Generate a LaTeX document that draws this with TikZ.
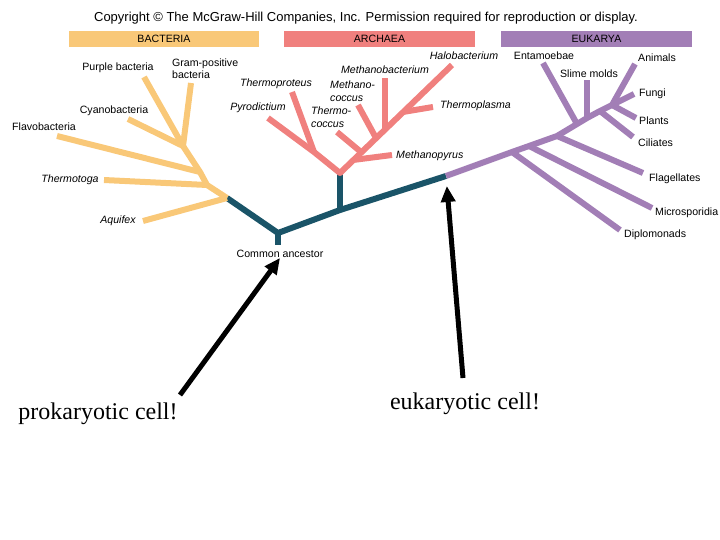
\documentclass[tikz,border=0pt]{standalone}
\usepackage{fontspec}
\setmainfont{Liberation Serif}
\setsansfont{Liberation Sans}
\usepackage{tikz}
\usetikzlibrary{arrows.meta,positioning}
\definecolor{bactorange}{RGB}{249,200,120}
\definecolor{archred}{RGB}{240,128,126}
\definecolor{eukpurple}{RGB}{162,126,182}
\definecolor{stemteal}{RGB}{26,84,104}

\tikzset{
  branch/.style={line width=6pt, line join=round},
  taxon/.style={font=\sffamily\fontsize{10.6}{12.5}\selectfont, inner sep=0pt},
  genus/.style={font=\sffamily\itshape\fontsize{10.6}{12.5}\selectfont, inner sep=0pt},
  domainbar/.style={minimum width=190pt, minimum height=16pt, inner sep=0pt,
    font=\sffamily\fontsize{10.6}{12}\selectfont},
  pointer/.style={-{Triangle[length=16pt,width=14pt]}, line width=5pt},
  cellnote/.style={font=\fontsize{24}{28}\selectfont, inner sep=0pt}
}

\begin{document}
\begin{tikzpicture}[x=1pt,y=-1pt]
  \useasboundingbox (0,0) rectangle (720,540);
  % Header
  \node[font=\sffamily\fontsize{13}{15}\selectfont, inner sep=0pt] (copyright) at (366,18)
        {Copyright \textcopyright{} The McGraw-Hill Companies, Inc. Permission required for reproduction or display.};
  \node[domainbar, fill=bactorange] (bactbar) at (164,39) {BACTERIA};
  \node[domainbar, fill=archred, minimum width=191pt] (archbar) at (379.5,39) {ARCHAEA};
  \node[domainbar, fill=eukpurple, minimum width=191pt] (eukbar) at (596.5,39) {EUKARYA};

  % Stem
  \coordinate (bactroot) at (227,198);
  \coordinate (ancestor) at (278,233);
  \coordinate (ancstub) at (278,245);
  \coordinate (split) at (340,210);
  \coordinate (archroot) at (340,173);
  \coordinate (eukroot) at (446,176);
  \draw[stemteal, branch] (bactroot) -- (ancestor) -- (split) -- (eukroot);
  \draw[stemteal, branch] (ancestor) -- (ancstub);
  \draw[stemteal, branch] (split) -- (archroot);
  \node[taxon] (ancestorlabel) at (280,254) {Common ancestor};

  % Bacteria
  \coordinate (b1) at (183,146);
  \coordinate (b2) at (200,172);
  \coordinate (b3) at (207,185);
  \coordinate (purple) at (144,77);
  \coordinate (gram) at (191,83);
  \coordinate (cyano) at (128,119);
  \coordinate (flavo) at (57,136);
  \coordinate (thermotoga) at (104,180);
  \coordinate (aquifex) at (143,221);
  \draw[bactorange, branch] (b1) -- (b2) -- (b3) -- (bactroot);
  \draw[bactorange, branch] (purple) -- (b1);
  \draw[bactorange, branch] (gram) -- (b1);
  \draw[bactorange, branch] (cyano) -- (b1);
  \draw[bactorange, branch] (flavo) -- (b2);
  \draw[bactorange, branch] (thermotoga) -- (b3);
  \draw[bactorange, branch] (aquifex) -- (bactroot);
  \node[taxon] (purplelabel) at (118,68) {Purple bacteria};
  \node[taxon, anchor=west, align=left] (gramlabel) at (172,68.5) {Gram-positive\\bacteria};
  \node[taxon] (cyanolabel) at (114,111) {Cyanobacteria};
  \node[taxon] (flavolabel) at (44,127) {Flavobacteria};
  \node[genus] (thermotogalabel) at (70,180) {Thermotoga};
  \node[genus] (aquifexlabel) at (118,221) {Aquifex};

  % Archaea
  \coordinate (a1) at (314,152);
  \coordinate (pyro) at (268,118);
  \coordinate (thproteus) at (292,92);
  \coordinate (m1) at (353,160);
  \coordinate (m2) at (361,152);
  \coordinate (m3) at (376,138);
  \coordinate (m4) at (385,130);
  \coordinate (m5) at (403,112);
  \coordinate (halo) at (452,65);
  \coordinate (mpyrus) at (392,155);
  \coordinate (thcoccus) at (337,132);
  \coordinate (mcoccus) at (358,105);
  \coordinate (mbact) at (385,78);
  \coordinate (thplasma) at (433,107);
  \draw[archred, branch] (pyro) -- (a1) -- (archroot) -- (halo);
  \draw[archred, branch] (thproteus) -- (a1);
  \draw[archred, branch] (m1) -- (mpyrus);
  \draw[archred, branch] (m2) -- (thcoccus);
  \draw[archred, branch] (m3) -- (mcoccus);
  \draw[archred, branch] (m4) -- (mbact);
  \draw[archred, branch] (m5) -- (thplasma);
  \node[genus] (halolabel) at (464,56) {Halobacterium};
  \node[genus] (mbactlabel) at (385,70) {Methanobacterium};
  \node[genus, anchor=west, align=left] (mcoccuslabel) at (330,91) {Methano-\\coccus};
  \node[genus] (thproteuslabel) at (276,84) {Thermoproteus};
  \node[genus] (pyrolabel) at (258,108) {Pyrodictium};
  \node[genus, anchor=west, align=left] (thcoccuslabel) at (311,117) {Thermo-\\coccus};
  \node[genus, anchor=west] (thplasmalabel) at (440,106) {Thermoplasma};
  \node[genus, anchor=west] (mpyruslabel) at (396,156) {Methanopyrus};

  % Eukarya
  \coordinate (e1) at (512,152);
  \coordinate (e2) at (529,146);
  \coordinate (e3) at (557,136);
  \coordinate (e4) at (577,124);
  \coordinate (e5) at (587,118);
  \coordinate (e6) at (600,111);
  \coordinate (e7) at (612,105);
  \coordinate (animals) at (635,64);
  \coordinate (diplo) at (620,230);
  \coordinate (micro) at (652,208);
  \coordinate (flag) at (643,173);
  \coordinate (entam) at (543,63);
  \coordinate (slime) at (587,80);
  \coordinate (ciliates) at (633,137);
  \coordinate (plants) at (636,118);
  \coordinate (fungi) at (634,94);
  \draw[eukpurple, branch] (eukroot) -- (e1) -- (e2) -- (e3) -- (e4) -- (e5) -- (e6) -- (e7) -- (animals);
  \draw[eukpurple, branch] (e1) -- (diplo);
  \draw[eukpurple, branch] (e2) -- (micro);
  \draw[eukpurple, branch] (e3) -- (flag);
  \draw[eukpurple, branch] (e4) -- (entam);
  \draw[eukpurple, branch] (e5) -- (slime);
  \draw[eukpurple, branch] (e6) -- (ciliates);
  \draw[eukpurple, branch] (e7) -- (plants);
  \draw[eukpurple, branch] (e7) -- (fungi);
  \node[taxon] (entamlabel) at (544,56) {Entamoebae};
  \node[taxon] (slimelabel) at (589,74) {Slime molds};
  \node[taxon, anchor=west] (animalslabel) at (638,58) {Animals};
  \node[taxon, anchor=west] (fungilabel) at (639,94) {Fungi};
  \node[taxon, anchor=west] (plantslabel) at (639,121) {Plants};
  \node[taxon, anchor=west] (ciliateslabel) at (638,143) {Ciliates};
  \node[taxon, anchor=west] (flaglabel) at (649,179) {Flagellates};
  \node[taxon, anchor=west] (microlabel) at (655,213) {Microsporidia};
  \node[taxon, anchor=west] (diplolabel) at (624,235) {Diplomonads};

  % Notes
  \node[cellnote] (prokaryote) at (98,414) {prokaryotic cell!};
  \node[cellnote] (eukaryote) at (465,404) {eukaryotic cell!};
  \coordinate (protail) at (180,395);
  \coordinate (eutail) at (463,378);
  \draw[pointer] (protail) -- (ancestorlabel.south);
  \draw[pointer, shorten >=10pt] (eutail) -- (eukroot);
\end{tikzpicture}
\end{document}
